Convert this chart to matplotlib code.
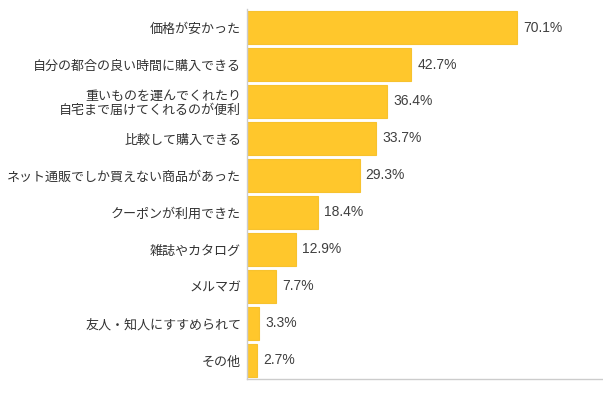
import matplotlib.pyplot as plt

plt.rcParams['font.family'] = ['Noto Sans CJK JP', 'DejaVu Sans']

labels = ['価格が安かった', '自分の都合の良い時間に購入できる',
          '重いものを運んでくれたり\n自宅まで届けてくれるのが便利',
          '比較して購入できる', 'ネット通販でしか買えない商品があった',
          'クーポンが利用できた', '雑誌やカタログ', 'メルマガ',
          '友人・知人にすすめられて', 'その他']
values = [70.1, 42.7, 36.4, 33.7, 29.3, 18.4, 12.9, 7.7, 3.3, 2.7]

fig = plt.figure(figsize=(6.03, 3.93), dpi=100)
ax = fig.add_axes([0.409, 0.036, 0.591, 0.941])

y = list(range(len(values)))
ax.barh(y, values, height=0.89, color='#FFC72C', edgecolor='#F7C22E', linewidth=0.8)
ax.set_ylim(len(values) - 0.5, -0.5)
ax.set_xlim(0, 92.5)

for yi, v in zip(y, values):
    ax.text(v + 1.6, yi, f'{v}%', va='center', ha='left', fontsize=10,
            color='#404040', family=['Liberation Sans', 'DejaVu Sans'])

ax.set_yticks(y)
ax.set_yticklabels(labels, fontsize=9.4, color='#333333', linespacing=1.05)
ax.tick_params(axis='y', length=0, pad=4)
ax.set_xticks([])

for s in ['top', 'right']:
    ax.spines[s].set_visible(False)
for s in ['left', 'bottom']:
    ax.spines[s].set_color('#cccccc')
    ax.spines[s].set_linewidth(1.0)

fig.savefig('out.png', dpi=100)
